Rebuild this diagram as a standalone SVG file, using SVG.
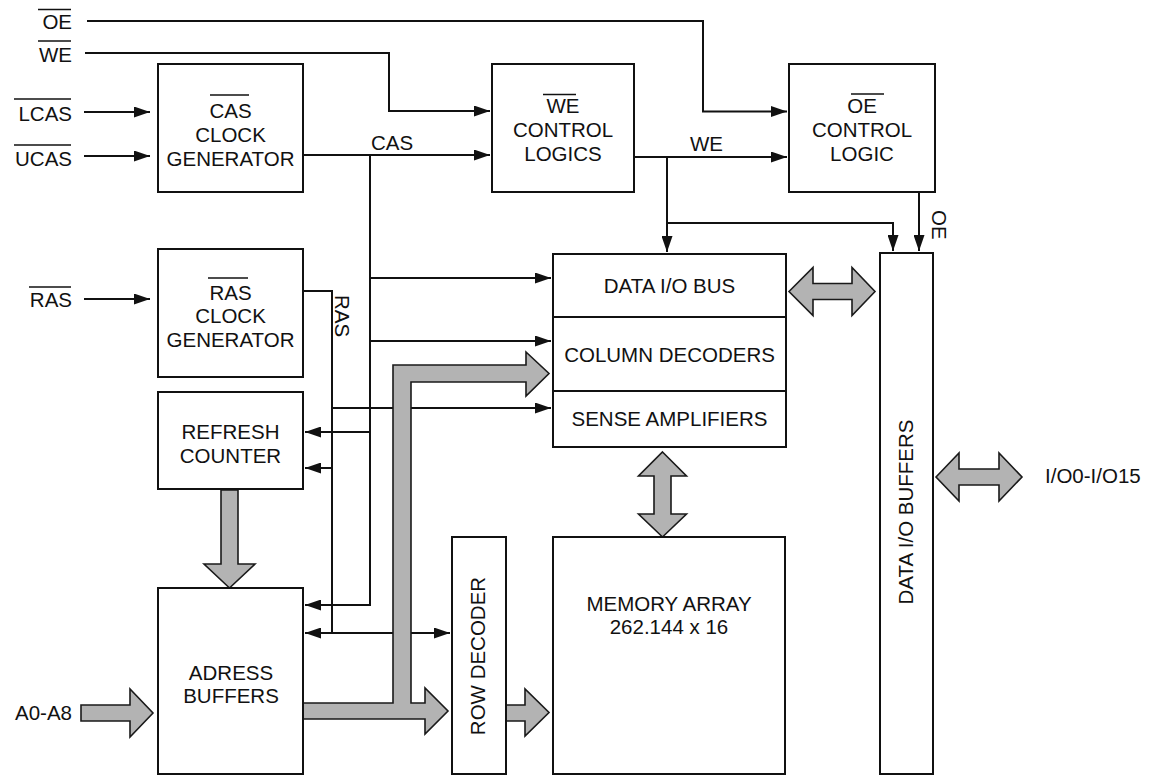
<svg xmlns="http://www.w3.org/2000/svg" width="1149" height="776" viewBox="0 0 1149 776">
<style>
text{font-family:"Liberation Sans",Arial,sans-serif;font-size:20.5px;fill:#111}
.c{text-anchor:middle}
.e{text-anchor:end}
.box{fill:#fff;stroke:#111;stroke-width:2}
.ln{fill:none;stroke:#111;stroke-width:2}
.ov{stroke:#111;stroke-width:1.6}
.bus{fill:#b3b3b3;stroke:#1a1a1a;stroke-width:1.6;stroke-linejoin:miter}
</style>
<defs>
<marker id="ah" markerUnits="userSpaceOnUse" viewBox="0 0 16 11" refX="16" refY="5.5" markerWidth="16" markerHeight="11" orient="auto-start-reverse">
<path d="M0,0 L16,5.5 L0,11 z" fill="#111"/>
</marker>
</defs>
<rect width="1149" height="776" fill="#fff"/>

<g id="connectors">
<path class="ln" d="M87,21 H703 V111.5 H787" marker-end="url(#ah)"/>
<path class="ln" d="M85,53 H389 V111 H490" marker-end="url(#ah)"/>
<path class="ln" d="M84,112 H150" marker-end="url(#ah)"/>
<path class="ln" d="M84,156 H150" marker-end="url(#ah)"/>
<path class="ln" d="M84,299 H150" marker-end="url(#ah)"/>
<path class="ln" d="M303,155 H490" marker-end="url(#ah)"/>
<path class="ln" d="M370,155 V605 H305" marker-end="url(#ah)"/>
<path class="ln" d="M370,278 H551" marker-end="url(#ah)"/>
<path class="ln" d="M370,341 H551" marker-end="url(#ah)"/>
<path class="ln" d="M370,432 H305" marker-end="url(#ah)"/>
<path class="ln" d="M303,291 H332 V633"/>
<path class="ln" d="M332,408 H551" marker-end="url(#ah)"/>
<path class="ln" d="M332,468 H305" marker-end="url(#ah)"/>
<path class="ln" d="M305,633 H450" marker-start="url(#ah)" marker-end="url(#ah)"/>
<path class="ln" d="M634,157 H787" marker-end="url(#ah)"/>
<path class="ln" d="M667,157 V252" marker-end="url(#ah)"/>
<path class="ln" d="M667,223 H893 V251" marker-end="url(#ah)"/>
<path class="ln" d="M919,192 V251" marker-end="url(#ah)"/>
<text x="371" y="150">CAS</text>
<text x="690" y="151">WE</text>
<text transform="translate(335,295) rotate(90)">RAS</text>
<text transform="translate(932,210) rotate(90)">OE</text>
<polygon class="bus" points="221,490 238,490 238,564 255,564 229.5,588 204,564 221,564"/>
<polygon class="bus" points="81,705 130,705 130,689 153,713 130,737 130,721 81,721"/>
<polygon class="bus" points="303,703 393,703 393,365 526,365 526,352 549,373.5 526,396 526,382 411,382 411,703 425,703 425,688 448,711 425,734 425,719 303,719"/>
<polygon class="bus" points="506,705 525,705 525,689 549,712.5 525,736 525,721 506,721"/>
<polygon class="bus" points="662.5,452 686.5,476 671,476 671,514 686.5,514 662.5,537 638.5,514 654,514 654,476 638.5,476"/>
<polygon class="bus" points="789,291.5 813,267.5 813,283.5 852,283.5 852,267.5 875,291.5 852,315.5 852,299.5 813,299.5 813,315.5"/>
<polygon class="bus" points="936,477 959,453 959,469 999,469 999,453 1022,477 999,501 999,485 959,485 959,501"/>
</g>

<g id="sig-oe">
<text class="e" x="72" y="29">OE</text>
<line class="ov" x1="38" y1="9.5" x2="71" y2="9.5"/>
</g>
<g id="sig-we">
<text class="e" x="72" y="62">WE</text>
<line class="ov" x1="38" y1="41" x2="71" y2="41"/>
</g>
<g id="sig-lcas">
<text class="e" x="72" y="121">LCAS</text>
<line class="ov" x1="14" y1="99" x2="71" y2="99"/>
</g>
<g id="sig-ucas">
<text class="e" x="72" y="166">UCAS</text>
<line class="ov" x1="14" y1="145" x2="71" y2="145"/>
</g>
<g id="sig-ras">
<text class="e" x="72" y="307">RAS</text>
<line class="ov" x1="29" y1="287" x2="71" y2="287"/>
</g>
<g id="sig-addr">
<text class="e" x="72" y="720">A0-A8</text>
</g>
<g id="sig-io">
<text x="1045" y="483">I/O0-I/O15</text>
</g>

<g id="cas-clock">
<rect class="box" x="158" y="64" width="145" height="128"/>
<text class="c" x="230.5" y="118">CAS</text>
<line class="ov" x1="210" y1="95" x2="249" y2="95"/>
<text class="c" x="230.5" y="142">CLOCK</text>
<text class="c" x="230.5" y="166">GENERATOR</text>
</g>
<g id="we-control">
<rect class="box" x="492" y="64" width="142" height="128"/>
<text class="c" x="563" y="113">WE</text>
<line class="ov" x1="543" y1="94.5" x2="576" y2="94.5"/>
<text class="c" x="563" y="137">CONTROL</text>
<text class="c" x="563" y="161">LOGICS</text>
</g>
<g id="oe-control">
<rect class="box" x="789" y="64" width="146" height="128"/>
<text class="c" x="862" y="113">OE</text>
<line class="ov" x1="851" y1="94" x2="884" y2="94"/>
<text class="c" x="862" y="137">CONTROL</text>
<text class="c" x="862" y="161">LOGIC</text>
</g>
<g id="ras-clock">
<rect class="box" x="158" y="249" width="145" height="128"/>
<text class="c" x="230.5" y="300">RAS</text>
<line class="ov" x1="208" y1="278" x2="248" y2="278"/>
<text class="c" x="230.5" y="323">CLOCK</text>
<text class="c" x="230.5" y="347">GENERATOR</text>
</g>
<g id="refresh-counter">
<rect class="box" x="158" y="392" width="145" height="97"/>
<text class="c" x="230.5" y="439">REFRESH</text>
<text class="c" x="230.5" y="463">COUNTER</text>
</g>
<g id="address-buffers">
<rect class="box" x="158" y="588" width="145" height="186"/>
<text class="c" x="231" y="680">ADRESS</text>
<text class="c" x="231" y="703">BUFFERS</text>
</g>
<g id="data-io-bus">
<rect class="box" x="553" y="254" width="233" height="63"/>
<text class="c" x="669.5" y="293">DATA I/O BUS</text>
</g>
<g id="column-decoders">
<rect class="box" x="553" y="317" width="233" height="74"/>
<text class="c" x="669.5" y="362">COLUMN DECODERS</text>
</g>
<g id="sense-amplifiers">
<rect class="box" x="553" y="391" width="233" height="56"/>
<text class="c" x="669.5" y="426">SENSE AMPLIFIERS</text>
</g>
<g id="row-decoder">
<rect class="box" x="452" y="537" width="54" height="237"/>
<text class="c" transform="translate(485,656) rotate(-90)">ROW DECODER</text>
</g>
<g id="memory-array">
<rect class="box" x="553" y="537" width="232" height="237"/>
<text class="c" x="669" y="611">MEMORY ARRAY</text>
<text class="c" x="669" y="634">262.144 x 16</text>
</g>
<g id="data-io-buffers">
<rect class="box" x="880" y="253" width="53" height="521"/>
<text class="c" transform="translate(913,512) rotate(-90)">DATA I/O BUFFERS</text>
</g>
</svg>
